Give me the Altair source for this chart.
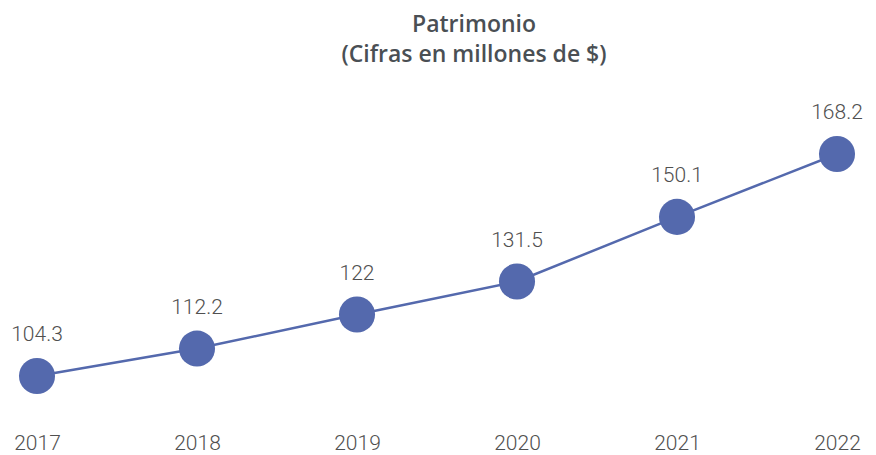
import altair as alt
import pandas as pd

years = ["2017", "2018", "2019", "2020", "2021", "2022"]
values = [104.3, 112.2, 122, 131.5, 150.1, 168.2]
labels = ["104.3", "112.2", "122", "131.5", "150.1", "168.2"]

df = pd.DataFrame({"year": years, "value": values, "label": labels})

FONT = "Roboto"
TFONT = "Open Sans"
COLOR = "#5469ad"

x = alt.X("year:O", title=None, sort=years,
          scale=alt.Scale(type="point", padding=0),
          axis=alt.Axis(labelAngle=0, domain=False, ticks=False, grid=False,
                        labelPadding=34, labelFontSize=21, labelColor="#505050",
                        labelFont=FONT, labelFontWeight=300))
y = alt.Y("value:Q", title=None,
          scale=alt.Scale(domain=[97.97, 184.32], zero=False, nice=False),
          axis=None)

base = alt.Chart(df).encode(x=x, y=y)

line = base.mark_line(color=COLOR, strokeWidth=2.5)
pts = base.mark_circle(color=COLOR, opacity=1, size=1300)
txt = base.mark_text(dy=-41, fontSize=21, font=FONT, fontWeight=300,
                     color="#505050").encode(text="label:N")

chart = alt.layer(line, pts, txt).properties(
    width=800, height=300,
    title=alt.TitleParams(["Patrimonio", "(Cifras en millones de $)"],
                          font=TFONT, fontSize=23, fontWeight=600, color="#4a4f54",
                          anchor="middle", offset=31, lineHeight=30, dx=37),
    padding={"left": 29, "top": 90, "right": 31, "bottom": 57},
    autosize=alt.AutoSizeParams(type="none"),
).configure_view(stroke=None)

chart.save("out.html", embed_options={"renderer": "svg", "actions": False})
